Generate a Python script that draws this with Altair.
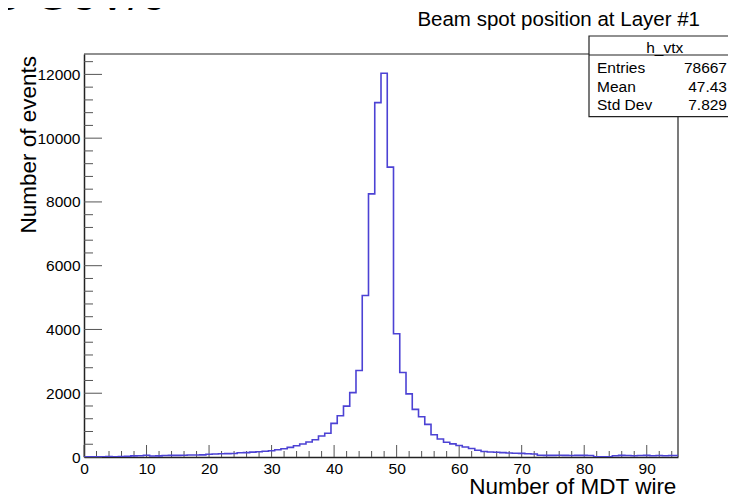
import altair as alt
import pandas as pd

# ---- data (bin contents, bins centred on integers 0..95)
bin_centers = list(range(96))
counts = [
    0, 5, 10, 8, 12, 10, 15, 20, 36, 41,               # 0-9
    56, 31, 36, 46, 51, 51, 56, 61, 61, 66,            # 10-19
    87, 92, 102, 107, 112, 133, 138, 153, 166, 181,    # 20-29
    198, 229, 260, 302, 354, 408, 470, 542, 657, 744,  # 30-39
    1055, 1294, 1595, 2018, 2715, 5066, 8254, 11116, 12038, 9091,  # 40-49
    3865, 2652, 1979, 1494, 1264, 1024, 699, 565, 464, 413,  # 50-59
    359, 313, 265, 214, 171, 156, 148, 138, 127, 117,  # 60-69
    114, 102, 92, 56, 51, 51, 56, 51, 46, 51,          # 70-79
    51, 46, 10, 5, 10, 41, 51, 46, 41, 46,             # 80-89
    51, 41, 46, 41, 46, 46,                            # 90-95
]

x_major = [0, 10, 20, 30, 40, 50, 60, 70, 80, 90]
x_minor = [v for v in range(0, 96, 2) if v % 10 != 0]
y_major = [0, 2000, 4000, 6000, 8000, 10000, 12000]
y_minor = [v for v in range(0, 12401, 400) if v % 2000 != 0]

title_text = "Beam spot position at Layer #1"
x_title = "Number of MDT wire"
y_title = "Number of events"
corner_text = "5 GeV/c"
stats_name = "h_vtx"
stats_labels = ["Entries", "Mean", "Std Dev"]
stats_values = ["78667", "47.43", "7.829"]

# ---- tables
edges = [c - 0.5 for c in bin_centers] + [bin_centers[-1] + 0.5]
hist_df = pd.DataFrame({"edge": edges, "count": counts + [counts[-1]]})
ymax = max(counts) * 1.05

W, H = 594, 403
FONT = "Liberation Sans"

xs = alt.Scale(domain=[0, 95], nice=False, zero=False)
ys = alt.Scale(domain=[0, ymax], nice=False, zero=True)

x_axis = alt.Axis(values=x_major, format="d", ticks=False, grid=False, title=None,
                  labelFontSize=15.5, labelFont=FONT, labelColor="black", labelPadding=4,
                  domainColor="#222", domainWidth=1.5, labelFlush=False)
y_axis = alt.Axis(values=y_major, format="d", ticks=False, grid=False, title=None,
                  labelFontSize=15.5, labelFont=FONT, labelColor="black", labelPadding=4,
                  domainColor="#222", domainWidth=1.5)

hist = alt.Chart(hist_df).mark_line(
    interpolate="step-after", color="#4c42d4", strokeWidth=1.6, clip=True
).encode(
    x=alt.X("edge:Q", scale=xs, axis=x_axis),
    y=alt.Y("count:Q", scale=ys, axis=y_axis),
)

# frame top / right
frame_top = alt.Chart(pd.DataFrame({"a": [0]})).mark_rule(color="#222", strokeWidth=1.2).encode(
    x=alt.value(0), x2=alt.value(W), y=alt.value(0))
frame_right = alt.Chart(pd.DataFrame({"a": [0]})).mark_rule(color="#222", strokeWidth=1.2).encode(
    x=alt.value(W), y=alt.value(0), y2=alt.value(H))

# inward ticks
xmaj = alt.Chart(pd.DataFrame({"v": x_major})).mark_rule(color="#555", strokeWidth=1).encode(
    x=alt.X("v:Q", scale=xs), y=alt.value(H), y2=alt.value(H - 12))
xmin = alt.Chart(pd.DataFrame({"v": x_minor})).mark_rule(color="#555", strokeWidth=1).encode(
    x=alt.X("v:Q", scale=xs), y=alt.value(H), y2=alt.value(H - 6))
ymaj = alt.Chart(pd.DataFrame({"v": y_major})).mark_rule(color="#555", strokeWidth=1).encode(
    y=alt.Y("v:Q", scale=ys), x=alt.value(0), x2=alt.value(18))
ymin = alt.Chart(pd.DataFrame({"v": y_minor})).mark_rule(color="#555", strokeWidth=1).encode(
    y=alt.Y("v:Q", scale=ys), x=alt.value(0), x2=alt.value(9))

# stats box
box = alt.Chart(pd.DataFrame({"a": [0]})).mark_rect(fill="white", stroke="#222", strokeWidth=1.2).encode(
    x=alt.value(505), x2=alt.value(700), y=alt.value(-18), y2=alt.value(62.7))
box_sep = alt.Chart(pd.DataFrame({"a": [0]})).mark_rule(color="#222", strokeWidth=1.2).encode(
    x=alt.value(505), x2=alt.value(700), y=alt.value(1))

def txt(s, x, y, size, align="left", angle=0, baseline="alphabetic"):
    kw = dict(text=s, fontSize=size, font=FONT, color="black", align=align, baseline=baseline)
    if angle:
        kw["angle"] = angle
    return alt.Chart(pd.DataFrame({"a": [0]})).mark_text(**kw).encode(
        x=alt.value(x), y=alt.value(y))

texts = [
    txt(stats_name, 580.7, -1.5, 15.5, align="center"),
]
row_y = [19.3, 37.7, 56.0]
for lab, val, yy in zip(stats_labels, stats_values, row_y):
    texts.append(txt(lab, 513, yy, 15.5, align="left"))
    texts.append(txt(val, 643, yy, 15.5, align="right"))

texts.append(txt(title_text, 474.7, -28.5, 20.5, align="center"))
texts.append(txt(x_title, 592.4, 439.5, 22.5, align="right"))
texts.append(txt(y_title, -47.6, 2, 22.5, align="right", angle=270))
texts.append(txt(corner_text, 80.7, -44, 47, align="right"))

chart = alt.layer(frame_top, frame_right, xmin, xmaj, ymin, ymaj, hist, box, box_sep, *texts).properties(
    width=W, height=H,
    padding={"left": 76, "top": 46, "right": 50, "bottom": 37},
    autosize=alt.AutoSizeParams(type="none"),
    background="white",
).configure_view(stroke=None)

chart.save("out.html", embed_options={"renderer": "svg", "actions": False})
